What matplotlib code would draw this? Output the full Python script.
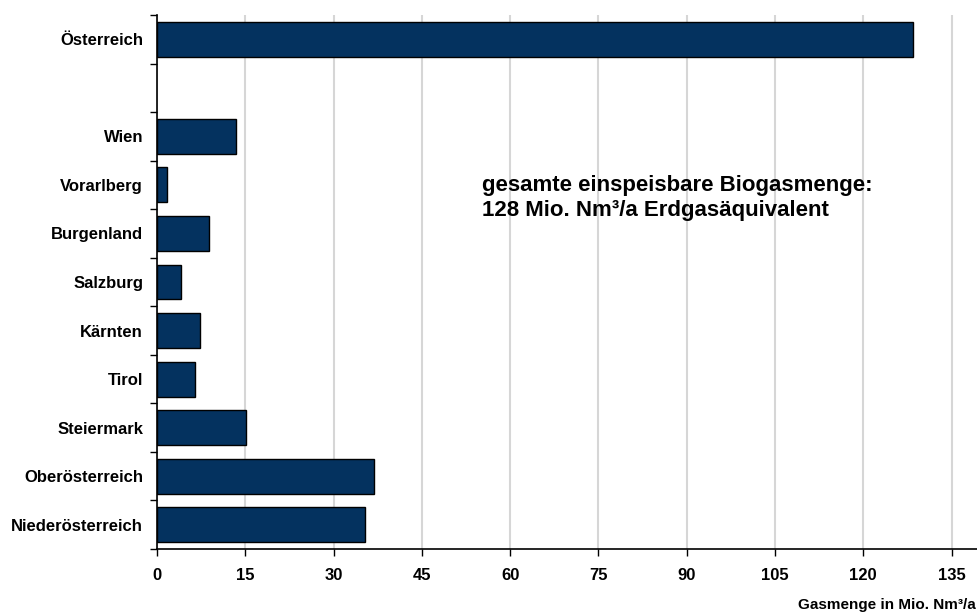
import numpy as np
import matplotlib.pyplot as plt

plt.rcParams['font.family'] = ['Liberation Sans', 'DejaVu Sans']
plt.rcParams['font.weight'] = 'bold'

# bottom to top, empty slot between Wien and Österreich
regions = ['Niederösterreich', 'Oberösterreich', 'Steiermark', 'Tirol', 'Kärnten',
           'Salzburg', 'Burgenland', 'Vorarlberg', 'Wien', '', 'Österreich']
values = [35.3, 36.8, 15.1, 6.5, 7.3, 4.1, 8.9, 1.7, 13.5, np.nan, 128.4]
xticks = [0, 15, 30, 45, 60, 75, 90, 105, 120, 135]

bar_color = '#04325f'

fig = plt.figure(figsize=(9.78, 6.14), dpi=100)
ax = fig.add_axes([0.1605, 0.1059, 0.8395, 0.8697])

ypos = np.arange(len(regions))
ax.barh(ypos, values, height=0.72, color=bar_color, edgecolor='black', linewidth=1.0, zorder=3)

ax.set_xlim(0, 139.5)
ax.set_ylim(-0.5, len(regions) - 0.5)

ax.set_xticks(xticks)
ax.set_xticklabels([str(t) for t in xticks], fontsize=12, fontweight='bold')
ax.xaxis.grid(True, color='#d6d6d6', linewidth=1.5, zorder=0)
ax.tick_params(axis='x', direction='out', length=5, width=1, pad=9)

# labels at slot centers, tick marks at slot borders
ax.set_yticks(ypos)
ax.set_yticklabels(regions, fontsize=12, fontweight='bold')
ax.set_yticks(np.arange(-0.5, len(regions)), minor=True)
ax.tick_params(axis='y', which='major', length=0, pad=10)
ax.tick_params(axis='y', which='minor', direction='out', length=5, width=1)

for s in ['top', 'right']:
    ax.spines[s].set_visible(False)
ax.spines['left'].set_linewidth(1.2)
ax.spines['bottom'].set_linewidth(1.2)

ax.text(55.3, 6.74, 'gesamte einspeisbare Biogasmenge:\n128 Mio. Nm³/a Erdgasäquivalent',
        fontsize=16, fontweight='bold', va='center', ha='left', linespacing=1.25)

fig.text(0.998, 0.003, 'Gasmenge in Mio. Nm³/a', fontsize=11, fontweight='bold',
         ha='right', va='bottom')

fig.savefig('out.png', dpi=100)
